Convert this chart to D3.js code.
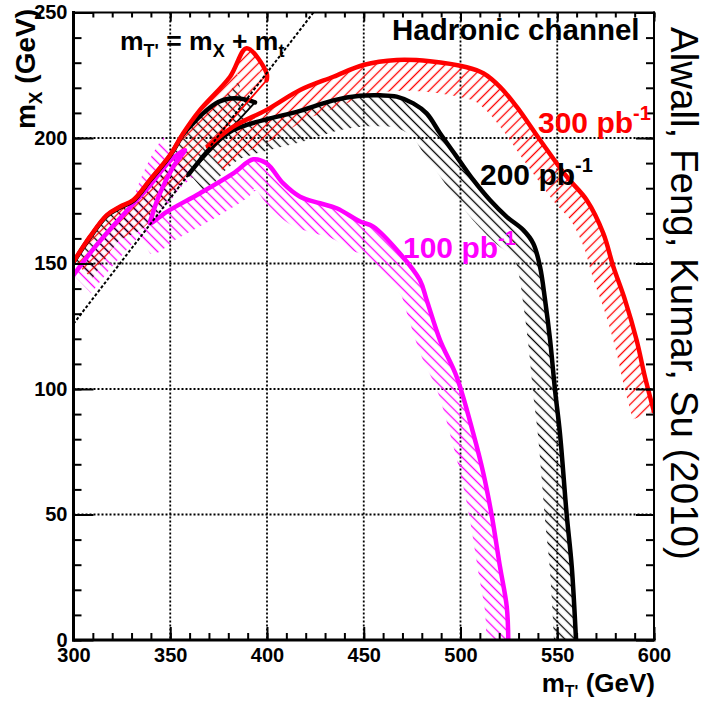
<!DOCTYPE html>
<html>
<head>
<meta charset="utf-8">
<script src="https://cdn.jsdelivr.net/npm/d3@7"></script>
<style>
  html,body{margin:0;padding:0;background:#fff;}
  svg{display:block;}
  text{font-family:"Liberation Sans",Arial,Helvetica,sans-serif;}
</style>
</head>
<body>
<script>
// ---------------- DATA ----------------
const xDomain = [300, 600];
const yDomain = [0, 250];
const xMajorTicks = [300, 350, 400, 450, 500, 550, 600];
const yMajorTicks = [0, 50, 100, 150, 200, 250];
const xGrid = [350, 400, 450, 500, 550];
const yGrid = [50, 100, 150, 200];
const topMass = 174; // m_t for the kinematic line
const kinLineX = [300, 424];

// 300 pb^-1 (red): upper branch, then lower branch (joined by a thin return segment)
const red300Upper = [[300,150.7],[308.5,160.7],[317.2,169.3],[324,172.6],[330.9,175.3],[339.5,183.3],[349.9,193.2],[356.7,201.9],[365.4,211.2],[380.9,224.4],[389.5,235.8],[399.8,225.8],[399.8,223]];
const red300Lower = [[369.5,196.5],[382.6,204.5],[399.8,211.2],[417.1,219.1],[434.3,224.4],[449.8,229.1],[467,231.1],[484.2,230.6],[503.2,228.2],[511.8,225.8],[520.4,220.4],[529,212.5],[541.1,199.2],[554.9,184.6],[565.2,175.3],[573.8,162],[579,148.7],[585,135.5],[591,119.5],[595.3,104.9],[600,91]];

// 200 pb^-1 (black)
const black200Upper = [[300,150.5],[308.5,160.4],[317.2,169],[324,172.3],[330.9,175],[339.5,183],[349.9,192.9],[356.7,201.5],[362,206],[368,210.5],[374.8,214.3],[380.9,215.7],[388.6,215.4],[393.8,214.2]];
const black200Lower = [[359.5,185.5],[365.4,191.2],[371.4,196.5],[380.9,202.5],[389.5,205.2],[401.6,207.8],[417.1,210.8],[434.3,215],[448,216.8],[458.4,217],[467,216.5],[475.6,213.8],[482.5,209.8],[489.4,201.9],[498,192.6],[506.6,183.3],[515.2,175.3],[523.9,168.6],[532.5,163.3],[537.6,158],[541.1,148.7],[543.7,135.5],[546.3,119.5],[548.8,99.9],[551.4,82.3],[554.9,49.8],[557.5,29.2],[559.7,0]];

// 100 pb^-1 (magenta)
const mag100 = [[300,145.4],[310,155.5],[320,164.5],[330,173],[340,181.5],[350,191],[357.6,195.2],[351.6,188.6],[344.7,178],[340.4,168.6],[339.5,166],[348.2,170.6],[365.4,178],[382.6,185.9],[392.9,191.5],[399.8,189.9],[408.4,181.9],[417.1,176.6],[427.4,174],[436,172],[448.1,166.7],[454.9,164.7],[468.7,154],[479,143.4],[482.5,135.5],[489.4,119.5],[498,104.9],[506.6,82.3],[511.8,66.4],[516.1,49.8],[520.4,29.2],[523.9,13.3],[524.7,0]];

// ---------------- LAYOUT ----------------
const W = 705, H = 704;
const L = 73.5, R = 654, T = 12.5, B = 640;
const x = d3.scaleLinear().domain(xDomain).range([L, R]);
const y = d3.scaleLinear().domain(yDomain).range([B, T]);
const FONT = '"Liberation Sans",Arial,Helvetica,sans-serif';

const svg = d3.select('body').append('svg').attr('width', W).attr('height', H);
const defs = svg.append('defs');

function hatch(id, color, angle) {
  const p = defs.append('pattern').attr('id', id)
    .attr('patternUnits', 'userSpaceOnUse')
    .attr('width', 7).attr('height', 7)
    .attr('patternTransform', `rotate(${angle})`);
  p.append('line').attr('x1', 3.5).attr('y1', -1).attr('x2', 3.5).attr('y2', 8)
    .attr('stroke', color).attr('stroke-width', 1.3);
}
hatch('hRed', '#ff0000', 45);
hatch('hBlack', '#000000', -45);
hatch('hMag', '#ff00ff', -45);

defs.append('clipPath').attr('id', 'plotClip')
  .append('rect').attr('x', L).attr('y', T).attr('width', R - L).attr('height', B - T);

// grid
const grid = svg.append('g').attr('stroke', '#000').attr('stroke-width', 1.8).attr('stroke-dasharray', '2,2');
grid.selectAll('line.v').data(xGrid).join('line').attr('class', 'v')
  .attr('x1', d => x(d)).attr('x2', d => x(d)).attr('y1', T).attr('y2', B);
grid.selectAll('line.h').data(yGrid).join('line').attr('class', 'h')
  .attr('y1', d => y(d)).attr('y2', d => y(d)).attr('x1', L).attr('x2', R);

const smooth = d3.line().x(d => x(d[0])).y(d => y(d[1])).curve(d3.curveCatmullRom.alpha(0.5));
const straight = d3.line().x(d => x(d[0])).y(d => y(d[1]));

// sample the smoothed contour in pixel space
function sampleCurve(data) {
  const p = svg.append('path').attr('d', smooth(data)).attr('fill', 'none');
  const node = p.node();
  const len = node.getTotalLength();
  const n = Math.max(2, Math.ceil(len / 2));
  const out = [];
  for (let i = 0; i <= n; i++) { const q = node.getPointAtLength(len * i / n); out.push([q.x, q.y]); }
  p.remove();
  return out;
}

// band polygon (hatched side = right-hand side of traversal in screen coords)
function bandPath(P, wx, wy) {
  const Q = [];
  const norm = v => { const l = Math.hypot(v[0], v[1]) || 1; return [v[0] / l, v[1] / l]; };
  const off = (p, d) => [p[0] - d[1] * wx, p[1] + d[0] * wy];
  for (let i = 0; i < P.length; i++) {
    const din = i > 0 ? norm([P[i][0] - P[i-1][0], P[i][1] - P[i-1][1]]) : null;
    const dout = i < P.length - 1 ? norm([P[i+1][0] - P[i][0], P[i+1][1] - P[i][1]]) : null;
    if (din && dout) {
      const dot = din[0] * dout[0] + din[1] * dout[1];
      if (dot < -0.2) { Q.push(off(P[i], din)); Q.push(off(P[i], dout)); }
      else Q.push(off(P[i], norm([din[0] + dout[0], din[1] + dout[1]])));
    } else Q.push(off(P[i], din || dout));
  }
  const poly = P.concat(Q.reverse());
  return 'M' + poly.map(p => p[0].toFixed(2) + ',' + p[1].toFixed(2)).join('L') + 'Z';
}

const plot = svg.append('g').attr('clip-path', 'url(#plotClip)');

const series = [
  {upper: mag100, lower: null, color: '#ff00ff', fill: 'url(#hMag)'},
  {upper: black200Upper, lower: black200Lower, color: '#000000', fill: 'url(#hBlack)'},
  {upper: red300Upper, lower: red300Lower, color: '#ff0000', fill: 'url(#hRed)'}
];
series.forEach(s => {
  let P = sampleCurve(s.upper);
  if (s.lower) P = P.concat(sampleCurve(s.lower));
  plot.append('path').attr('d', bandPath(P, 22, 31)).attr('fill', s.fill).attr('stroke', 'none');
});
series.forEach(s => {
  plot.append('path').attr('d', smooth(s.upper)).attr('fill', 'none').attr('stroke', s.color)
    .attr('stroke-width', 4.5).attr('stroke-linejoin', 'round').attr('stroke-linecap', 'round');
  if (s.lower) {
    plot.append('path').attr('d', straight([s.upper[s.upper.length - 1], s.lower[0]])).attr('fill', 'none')
      .attr('stroke', s.color).attr('stroke-width', 1.8);
    plot.append('path').attr('d', smooth(s.lower)).attr('fill', 'none').attr('stroke', s.color)
      .attr('stroke-width', 4.5).attr('stroke-linejoin', 'round').attr('stroke-linecap', 'round');
  }
});

// kinematic line m_T' = m_X + m_t
plot.append('path').attr('d', straight(kinLineX.map(v => [v, v - topMass])))
  .attr('fill', 'none').attr('stroke', '#000').attr('stroke-width', 2).attr('stroke-dasharray', '3,2');

// axes ticks
const minorX = d3.range(300, 601, 10), minorY = d3.range(0, 251, 10);
function ticks(axis, vals, size, tx, ty) {
  const g = svg.append('g').attr('transform', `translate(${tx},${ty})`)
    .call(axis.tickValues(vals).tickSize(size).tickFormat(''));
  g.select('.domain').remove();
  g.selectAll('line').attr('stroke', '#000').attr('stroke-width', 2);
}
ticks(d3.axisRight(y), minorY, 8, L, 0);
ticks(d3.axisRight(y), yMajorTicks, 20, L, 0);
ticks(d3.axisLeft(y), minorY, 8, R, 0);
ticks(d3.axisLeft(y), yMajorTicks, 18, R, 0);
ticks(d3.axisTop(x), minorX, 7, 0, B);
ticks(d3.axisTop(x), xMajorTicks, 13, 0, B);
ticks(d3.axisBottom(x), minorX, 5, 0, T);
ticks(d3.axisBottom(x), xMajorTicks, 9, 0, T);

// frame
const fr = svg.append('g').attr('stroke', '#000').attr('stroke-linecap', 'square');
fr.append('line').attr('x1', L).attr('x2', L).attr('y1', T).attr('y2', B).attr('stroke-width', 3);
fr.append('line').attr('x1', L).attr('x2', R).attr('y1', B).attr('y2', B).attr('stroke-width', 3);
fr.append('line').attr('x1', L).attr('x2', R).attr('y1', T).attr('y2', T).attr('stroke-width', 2);
fr.append('line').attr('x1', R).attr('x2', R).attr('y1', T).attr('y2', B).attr('stroke-width', 2);

// tick labels
const yl = svg.append('g').attr('transform', `translate(${L},0)`)
  .call(d3.axisLeft(y).tickValues(yMajorTicks).tickSize(0).tickPadding(6));
yl.select('.domain').remove();
yl.selectAll('text').attr('font-size', 20).attr('font-weight', 'bold').attr('font-family', FONT).attr('fill', '#000');
const xl = svg.append('g').attr('transform', `translate(0,${B})`)
  .call(d3.axisBottom(x).tickValues(xMajorTicks).tickSize(0).tickPadding(8));
xl.select('.domain').remove();
xl.selectAll('text').attr('font-size', 20).attr('font-weight', 'bold').attr('font-family', FONT).attr('fill', '#000');

// titles
const yt = svg.append('text').attr('transform', 'translate(35,9) rotate(-90)')
  .attr('text-anchor', 'end').attr('font-size', 28).attr('font-weight', 'bold');
yt.append('tspan').text('m');
yt.append('tspan').attr('dy', 7).attr('font-size', 19).text('X');
yt.append('tspan').attr('dy', -7).text(' (GeV)');

const xt = svg.append('text').attr('x', 655).attr('y', 692)
  .attr('text-anchor', 'end').attr('font-size', 26).attr('font-weight', 'bold');
xt.append('tspan').text('m');
xt.append('tspan').attr('dy', 5).attr('font-size', 16).text("T'");
xt.append('tspan').attr('dy', -5).text(' (GeV)');

svg.append('text').attr('x', 392).attr('y', 40).attr('font-size', 29.5).attr('font-weight', 'bold')
  .text('Hadronic channel');

const ft = svg.append('text').attr('x', 120).attr('y', 50).attr('font-size', 26.5).attr('font-weight', 'bold');
ft.append('tspan').text('m');
ft.append('tspan').attr('dy', 7).attr('font-size', 18).text("T'");
ft.append('tspan').attr('dy', -7).text(' = m');
ft.append('tspan').attr('dy', 7).attr('font-size', 18).text('X');
ft.append('tspan').attr('dy', -7).text(' + m');
ft.append('tspan').attr('dy', 7).attr('font-size', 18).text('t');

function lumiLabel(px, py, txt, color) {
  const t = svg.append('text').attr('x', px).attr('y', py).attr('font-size', 30)
    .attr('font-weight', 'bold').attr('fill', color);
  t.append('tspan').text(txt + ' pb');
  t.append('tspan').attr('dy', -13).attr('font-size', 20).text('-1');
}
lumiLabel(538, 133, '300', '#ff0000');
lumiLabel(480, 185, '200', '#000000');
lumiLabel(403, 258, '100', '#ff00ff');

svg.append('text').attr('transform', 'translate(671,27) rotate(90)')
  .attr('font-size', 38.5).attr('fill', '#000').text('Alwall, Feng, Kumar, Su (2010)');
</script>
</body>
</html>
